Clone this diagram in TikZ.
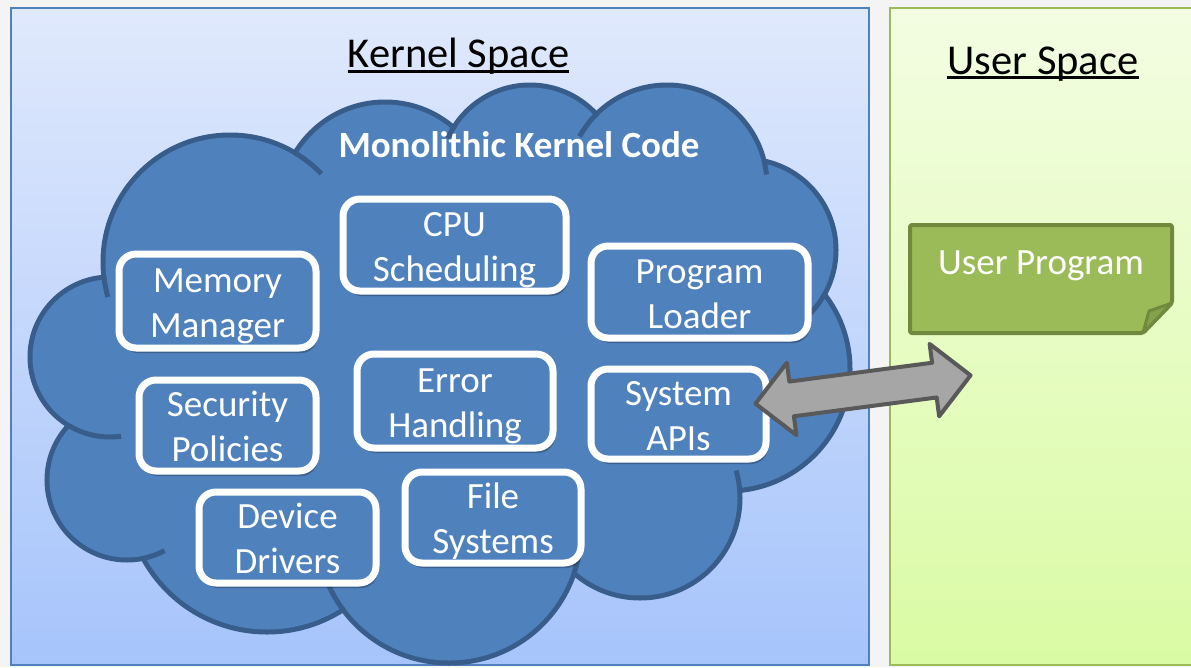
\documentclass[tikz,border=0pt]{standalone}
\usepackage{fontspec}
\setmainfont{Carlito}
\usetikzlibrary{shapes.arrows,shadows}

\definecolor{pagebg}{HTML}{F4F4F4}
\definecolor{kerneltop}{HTML}{E0E9FC}
\definecolor{kernelbot}{HTML}{A6C4FB}
\definecolor{kernelline}{HTML}{4F81BD}
\definecolor{usertop}{HTML}{F3FDE2}
\definecolor{userbot}{HTML}{DAFBA4}
\definecolor{userline}{HTML}{9BBB59}
\definecolor{cloudfill}{HTML}{4F81BD}
\definecolor{cloudline}{HTML}{385D8A}
\definecolor{notefill}{HTML}{9BBB59}
\definecolor{noteline}{HTML}{71893F}
\definecolor{notefold}{HTML}{84A24B}
\definecolor{arrowfill}{HTML}{A6A6A6}
\definecolor{arrowline}{HTML}{595959}

% two centred lines with fixed top and bottom extent
\newcommand\boxtext[2]{\rule{0pt}{35pt}#1\\#2\rule[-7.5pt]{0pt}{7.5pt}}

\tikzset{
  panel/.style={line width=2.5pt, inner sep=0pt, outer sep=0pt, anchor=north west},
  title/.style={font=\fontsize{42.5}{51}\selectfont, inner sep=0pt, anchor=base},
  titlerule/.style={line width=3.2pt},
  cloudedge/.style={draw=cloudline, line width=10pt},
  cloudtail/.style={draw=cloudline, line width=5pt},
  kbox/.style={draw=white, line width=7pt, fill=cloudfill, rounded corners=17pt,
    text=white, align=center, inner sep=0pt, outer sep=0pt,
    font=\fontsize{37}{45}\selectfont,
    drop shadow={shadow xshift=2pt, shadow yshift=-5pt, opacity=0.25, fill=black}},
  whitetext/.style={text=white, inner sep=0pt, anchor=base, font=\fontsize{37}{45}\selectfont},
}

\begin{document}
\begin{tikzpicture}[x=1pt, y=1pt]
  \useasboundingbox (0,0) rectangle (1191,-667);
  \clip (0,0) rectangle (1191,-667);
  \fill[pagebg] (0,0) rectangle (1191,-667);

  % the two address spaces
  \node[panel, draw=kernelline, top color=kerneltop, bottom color=kernelbot,
        minimum width=858pt, minimum height=657pt] (kernel) at (11,-8) {};
  \node[panel, draw=userline, top color=usertop, bottom color=userbot,
        minimum width=310pt, minimum height=657pt] (user) at (890,-8) {};

  \node[title] (ktitle) at (458.5,-67) {Kernel Space};
  \draw[titlerule] ([yshift=-4.5pt]ktitle.base west) -- ([yshift=-4.5pt]ktitle.base east);
  \node[title] (utitle) at (1043,-74) {User Space};
  \draw[titlerule] ([yshift=-3.8pt]utitle.base west) -- ([yshift=-3.8pt]utitle.base east);

  % cloud: union of lobes, outline first, then the fill on top
  \def\lobes{230/262/127, 110/357/80, 127/480/80, 267/491/141, 449/531/132,
             640/498/100, 728/369/122, 745/250/91, 667/185/100, 530/175/90, 385/207/105}
  \foreach \cx/\cy/\cr in \lobes
    \draw[cloudedge] (\cx,-\cy) circle[radius=\cr-2.5];
  \foreach \cx/\cy/\cr in \lobes
    \fill[cloudfill] (\cx,-\cy) circle[radius=\cr-2.5];
  \fill[cloudfill] (230,-262) -- (385,-207) -- (530,-175) -- (667,-185) -- (745,-250)
    -- (728,-369) -- (640,-498) -- (449,-531) -- (267,-491) -- (127,-480) -- (110,-357) -- cycle;

  % short inner arcs where the lobes meet
  \draw[cloudtail] (230,-262) ++(59:127) arc[start angle=59, end angle=44, radius=127];
  \draw[cloudtail] (230,-262) ++(187:127) arc[start angle=187, end angle=196, radius=127];
  \draw[cloudtail] (110,-357) ++(240:80) arc[start angle=240, end angle=278, radius=80];
  \draw[cloudtail] (127,-480) ++(281:80) arc[start angle=281, end angle=298, radius=80];
  \draw[cloudtail] (449,-531) ++(217:132) arc[start angle=217, end angle=204, radius=132];
  \draw[cloudtail] (449,-531) ++(341:132) arc[start angle=341, end angle=349, radius=132];
  \draw[cloudtail] (640,-498) ++(3:100) arc[start angle=3, end angle=16, radius=100];
  \draw[cloudtail] (745,-250) ++(-28:91) arc[start angle=-28, end angle=-44, radius=91];
  \draw[cloudtail] (667,-185) ++(14:100) arc[start angle=14, end angle=6, radius=100];
  \draw[cloudtail] (667,-185) ++(134:100) arc[start angle=134, end angle=151, radius=100];
  \draw[cloudtail] (530,-175) ++(147:90) arc[start angle=147, end angle=156, radius=90];

  \node[whitetext, font=\bfseries\fontsize{37}{45}\selectfont] (mono) at (519,-157) {Monolithic Kernel Code};

  % kernel components
  \node[kbox, minimum width=223pt, minimum height=92pt] (cpu)  at (454.5,-245) {\boxtext{CPU}{Scheduling}};
  \node[kbox, minimum width=197pt, minimum height=94pt] (mem)  at (217.5,-301) {\boxtext{Memory}{Manager}};
  \node[kbox, minimum width=177pt, minimum height=91pt] (sec)  at (227.5,-425.5) {\boxtext{Security}{Policies}};
  \node[kbox, minimum width=196pt, minimum height=94pt] (err)  at (455,-401) {\boxtext{Error}{Handling}};
  \node[kbox, minimum width=217pt, minimum height=92pt] (load) at (699.5,-292) {\boxtext{Program}{Loader}};
  \node[kbox, minimum width=175pt, minimum height=90pt] (api)  at (678.5,-414) {\boxtext{System}{APIs}};
  \node[kbox, minimum width=177pt, minimum height=91pt] (dev)  at (287.5,-537.5) {\boxtext{Device}{Drivers}};
  \node[kbox, minimum width=176pt, minimum height=91pt] (fs)   at (493,-517.5) {\boxtext{File}{Systems}};

  % user program note with folded corner
  \draw[draw=noteline, fill=notefill, line width=4pt, rounded corners=2pt, line join=round]
    (910,-225) -- (1172,-225) -- (1172,-303) -- (1143,-333) -- (910,-333) -- cycle;
  \draw[draw=noteline, fill=notefold, line width=3pt, line join=round]
    (1143,-333) -- (1149,-311) -- (1172,-303) -- cycle;
  \node[whitetext] (prog) at (1041,-274) {User Program};

  % system call interface
  \node[double arrow, draw=arrowline, fill=arrowfill, line width=4pt, line join=round,
        minimum height=217pt, inner xsep=0pt, inner ysep=15.5pt,
        double arrow head extend=19pt, rotate=7.5] (link) at (863,-389.5) {};
\end{tikzpicture}
\end{document}
